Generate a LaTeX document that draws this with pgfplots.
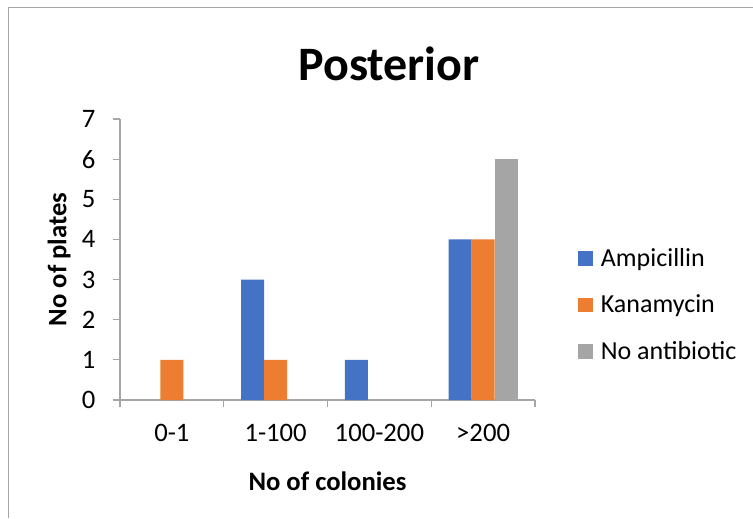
\documentclass[border=0pt]{standalone}
\usepackage{pgfplots}
\pgfplotsset{compat=1.18}
\usepackage{fontspec}
\setmainfont{Carlito}
\definecolor{cblue}{HTML}{4472C4}
\definecolor{corange}{HTML}{ED7D31}
\definecolor{cgray}{HTML}{A5A5A5}
\definecolor{cline}{HTML}{A6A6A6}
\begin{document}
\begin{tikzpicture}
\useasboundingbox (0,0) rectangle (564.75pt,-388.5pt);
\draw[cline, line width=0.8pt] (6.3pt,-388.5pt) -- (6.3pt,-5.6pt) -- (564.75pt,-5.6pt);
\node[font=\fontsize{36}{42}\selectfont\bfseries] at (291.75pt,-48pt) {Posterior};
\begin{axis}[
  at={(90pt,-300pt)}, anchor=south west,
  scale only axis, width=311.25pt, height=210.75pt,
  xmin=-0.5, xmax=3.5, ymin=0, ymax=7,
  axis x line=bottom, axis y line=left,
  axis line style={-, cline, line width=0.8pt},
  xtick={0,1,2,3}, xticklabels={0-1,1-100,100-200,>200},
  minor xtick={-0.5,0.5,1.5,2.5,3.5},
  ytick={0,1,...,7},
  tick align=outside,
  major x tick style={draw=none},
  minor tick length=5.5pt, major tick length=5.5pt,
  every tick/.style={cline, line width=0.8pt},
  tick label style={font=\fontsize{20}{24}\selectfont},
  /pgf/number format/assume math mode=true,
  xticklabel style={anchor=center, yshift=-19.5pt},
  yticklabel style={anchor=east, xshift=-9.5pt},
  xlabel={No of colonies}, ylabel={No of plates},
  label style={font=\fontsize{20}{24}\selectfont\bfseries},
  xlabel style={at={(axis description cs:0.5,-0.288)}, anchor=center},
  ylabel style={at={(axis description cs:-0.147,0.5)}, anchor=center},
  ybar=0pt, bar width=0.2217,
  legend style={at={(rel axis cs:1.093,0.338)}, anchor=west, draw=none, fill=none,
    font=\fontsize{19.5}{23}\selectfont, row sep=16pt,
    /tikz/every odd column/.append style={column sep=4pt}},
  legend cell align=left,
  legend image code/.code={\fill[#1] (0pt,-5.6pt) rectangle (11.25pt,5.6pt);},
]
\addplot[fill=cblue, draw=none, bar shift=-0.2217] coordinates {(1,3) (2,1) (3,4)};
\addplot[fill=corange, draw=none, bar shift=0] coordinates {(0,1) (1,1) (3,4)};
\addplot[fill=cgray, draw=none, bar shift=0.2217] coordinates {(3,6)};
\legend{Ampicillin,Kanamycin,No antibiotic}
\end{axis}
\end{tikzpicture}
\end{document}
